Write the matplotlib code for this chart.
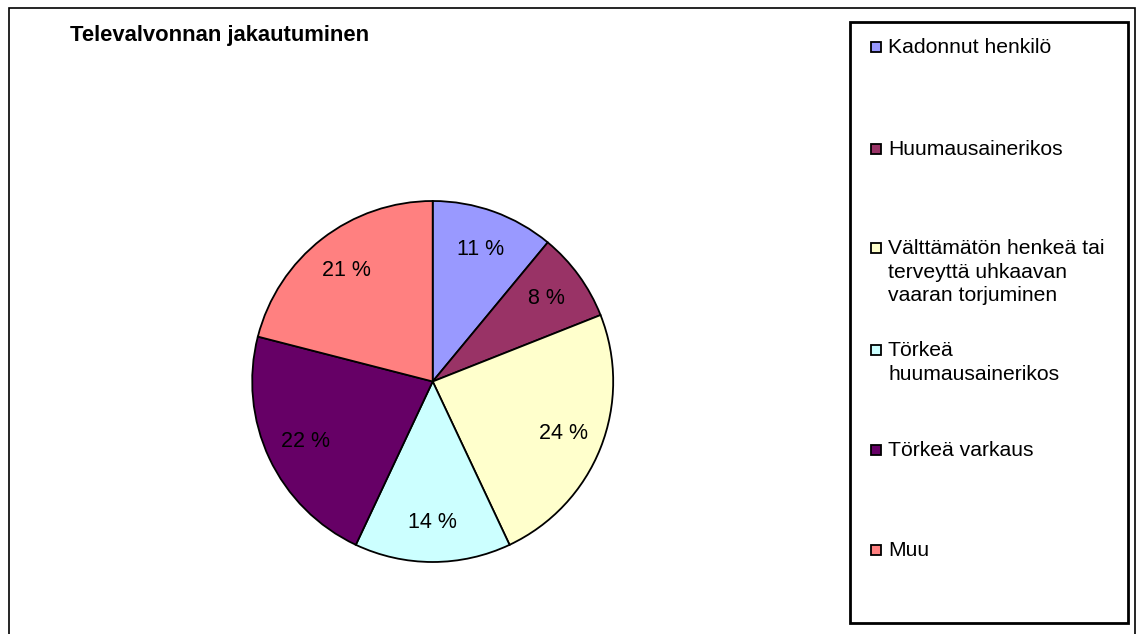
import matplotlib
matplotlib.use("Agg")
import matplotlib.pyplot as plt
from matplotlib.patches import Rectangle

plt.rcParams['font.family'] = ['Liberation Sans', 'DejaVu Sans']

title = "Televalvonnan jakautuminen"
categories = [
    "Kadonnut henkilö",
    "Huumausainerikos",
    "Välttämätön henkeä tai\nterveyttä uhkaavan\nvaaran torjuminen",
    "Törkeä\nhuumausainerikos",
    "Törkeä varkaus",
    "Muu",
]
values = [11, 8, 24, 14, 22, 21]
colors = ["#9999FF", "#993366", "#FFFFCC", "#CCFFFF", "#660066", "#FF8080"]

W, H = 1138, 634
fig = plt.figure(figsize=(W / 100, H / 100), dpi=100)


def fx(x):
    return x / W


def fy(y):
    return 1 - y / H


# outer chart border
fig.patches.append(Rectangle((fx(8.5), fy(640)), fx(1135 - 8.5), (640 - 7.5) / H,
                             transform=fig.transFigure, fill=False,
                             edgecolor="black", linewidth=1.2))

# pie axes
cx, cy, r = 432.7, 381.5, 180.5
ax = fig.add_axes([fx(cx - r), fy(cy + r), 2 * r / W, 2 * r / H])
wedges, texts, autotexts = ax.pie(
    values, colors=colors, startangle=90, counterclock=False,
    autopct=lambda p: f"{p:.0f} %", pctdistance=0.78,
    wedgeprops=dict(edgecolor="black", linewidth=1.3),
    textprops=dict(fontsize=15.5, color="black"))
ax.set_xlim(-1, 1)
ax.set_ylim(-1, 1)
ax.set_aspect("auto")
ax.axis("off")

# title
fig.text(fx(70), fy(35), title, fontsize=15.8, fontweight="bold",
         ha="left", va="center")

# legend box
fig.patches.append(Rectangle((fx(850), fy(623)), fx(1128 - 850), (623 - 22) / H,
                             transform=fig.transFigure, fill=False,
                             edgecolor="black", linewidth=2))
leg_y = [47, 149, 248, 350, 450, 550]
for lab, col, y in zip(categories, colors, leg_y):
    fig.patches.append(Rectangle((fx(871), fy(y + 5)), fx(10), 10 / H,
                                 transform=fig.transFigure, facecolor=col,
                                 edgecolor="black", linewidth=1.3))
    fig.text(fx(888), fy(y - 9), lab, fontsize=15.2, ha="left", va="top",
             linespacing=1.3)

fig.savefig("out.png", dpi=100)
